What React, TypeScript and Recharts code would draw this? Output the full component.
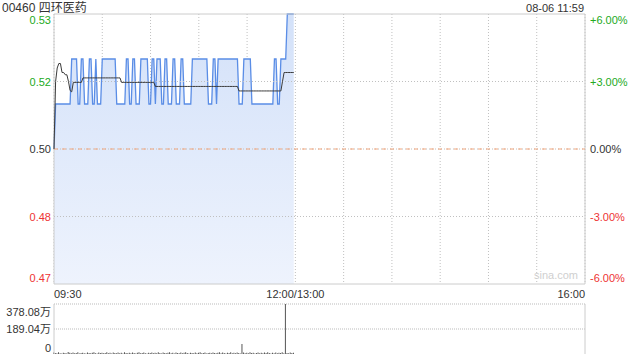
import React from "react";
import {
  ComposedChart,
  Bar,
  Area,
  Line,
  XAxis,
  YAxis,
  CartesianGrid,
  ReferenceLine,
  ReferenceArea,
} from "recharts";

// minute index from 09:30 (0) to 16:00 (330, lunch break removed)
const prices = [
  0.50, 0.51, 0.51, 0.51, 0.51, 0.51, 0.51, 0.51, 0.51, 0.51,
  0.51, 0.52, 0.52, 0.52, 0.52, 0.51, 0.51, 0.52, 0.52, 0.51,
  0.51, 0.51, 0.52, 0.52, 0.51, 0.51, 0.52, 0.51, 0.51, 0.51,
  0.52, 0.52, 0.52, 0.52, 0.52, 0.52, 0.52, 0.52, 0.52, 0.51,
  0.51, 0.51, 0.51, 0.51, 0.51, 0.52, 0.52, 0.51, 0.51, 0.52,
  0.52, 0.51, 0.51, 0.51, 0.52, 0.52, 0.52, 0.52, 0.52, 0.51,
  0.51, 0.52, 0.52, 0.51, 0.52, 0.52, 0.52, 0.51, 0.51, 0.52,
  0.52, 0.51, 0.51, 0.51, 0.52, 0.52, 0.51, 0.51, 0.51, 0.52,
  0.52, 0.51, 0.51, 0.51, 0.51, 0.51, 0.52, 0.52, 0.52, 0.52,
  0.52, 0.52, 0.52, 0.52, 0.52, 0.52, 0.51, 0.51, 0.51, 0.52,
  0.52, 0.51, 0.52, 0.52, 0.52, 0.52, 0.52, 0.52, 0.52, 0.52,
  0.52, 0.52, 0.52, 0.52, 0.52, 0.51, 0.51, 0.51, 0.52, 0.52,
  0.52, 0.52, 0.52, 0.51, 0.51, 0.51, 0.51, 0.51, 0.51, 0.51,
  0.51, 0.51, 0.51, 0.51, 0.51, 0.51, 0.51, 0.52, 0.52, 0.51,
  0.51, 0.52, 0.52, 0.52, 0.52, 0.53, 0.53, 0.53, 0.53, 0.53,
];

const avgPrices = [
  0.500, 0.515, 0.518, 0.519, 0.519, 0.517, 0.517, 0.5165, 0.5165, 0.515,
  0.513, 0.5127, 0.5148, 0.5148, 0.5148, 0.5148, 0.5148, 0.5148, 0.5158, 0.5158,
  0.5158, 0.5158, 0.5158, 0.5158, 0.5158, 0.5158, 0.5158, 0.5158, 0.5158, 0.5158,
  0.5158, 0.5158, 0.5158, 0.5158, 0.5158, 0.5158, 0.5158, 0.5158, 0.5158, 0.5158,
  0.5158, 0.5158, 0.5148, 0.5148, 0.5148, 0.5148, 0.5148, 0.5148, 0.5148, 0.5148,
  0.5148, 0.5148, 0.5148, 0.5148, 0.5148, 0.5148, 0.5148, 0.5148, 0.5148, 0.5148,
  0.5148, 0.5148, 0.5148, 0.5139, 0.5139, 0.5139, 0.5139, 0.5139, 0.5139, 0.5139,
  0.5139, 0.5139, 0.5139, 0.5139, 0.5139, 0.5139, 0.5139, 0.5139, 0.5139, 0.5139,
  0.5139, 0.5139, 0.5139, 0.5139, 0.5139, 0.5139, 0.5139, 0.5139, 0.5139, 0.5139,
  0.5139, 0.5139, 0.5139, 0.5139, 0.5139, 0.5139, 0.5139, 0.5139, 0.5139, 0.5139,
  0.5139, 0.5139, 0.5139, 0.5139, 0.5139, 0.5139, 0.5139, 0.5139, 0.5139, 0.5139,
  0.5139, 0.5139, 0.5139, 0.5139, 0.5139, 0.5129, 0.5129, 0.5129, 0.5129, 0.5129,
  0.5129, 0.5129, 0.5129, 0.5129, 0.5129, 0.5129, 0.5129, 0.5129, 0.5129, 0.5129,
  0.5129, 0.5129, 0.5129, 0.5129, 0.5129, 0.5129, 0.5129, 0.5129, 0.5129, 0.5129,
  0.5129, 0.5129, 0.515, 0.517, 0.517, 0.517, 0.517, 0.517, 0.517, 0.517,
];

// volume in 万 shares
const volumes = [
  12, 8, 5, 14, 6, 3, 10, 7, 4, 15,
  9, 6, 11, 5, 8, 13, 4, 7, 10, 6,
  3, 12, 8, 5, 9, 14, 6, 4, 11, 7,
  10, 5, 8, 13, 6, 9, 4, 12, 7, 5,
  11, 6, 9, 3, 14, 8, 5, 10, 6, 12,
  7, 4, 9, 13, 5, 8, 11, 6, 4, 10,
  7, 12, 5, 9, 6, 14, 8, 3, 11, 7,
  5, 10, 13, 6, 9, 4, 12, 8, 5, 11,
  6, 9, 14, 7, 4, 10, 8, 5, 12, 6,
  9, 13, 5, 7, 11, 4, 8, 10, 6, 12,
  7, 5, 9, 14, 6, 11, 8, 4, 10, 7,
  13, 5, 9, 6, 12, 8, 4, 75, 11, 6,
  9, 5, 13, 7, 10, 4, 8, 12, 6, 9,
  5, 11, 7, 14, 8, 4, 10, 6, 12, 5,
  9, 7, 13, 6, 378.08, 8, 5, 11, 7, 10,
];

const prevClose = 0.5;
const priceTicks = [0.47, 0.485, 0.5, 0.515, 0.53];
const priceLabels = ["0.47", "0.48", "0.50", "0.52", "0.53"];
const priceGrid = [0.515, 0.5, 0.485];
const pctTicks = [-6, -3, 0, 3, 6];
const pctLabels = ["-6.00%", "-3.00%", "0.00%", "+3.00%", "+6.00%"];
const timeTicks = [0, 30, 60, 90, 120, 150, 180, 210, 240, 270, 300, 330];
const timeLabels: Record<number, string> = { 0: "09:30", 150: "12:00/13:00", 330: "16:00" };
const volTicks = [0, 189.04, 378.08];
const volLabels = ["0", "189.04万", "378.08万"];
const volGrid = [378.08, 189.04];
const dayEnds = [0, 330];

const rows = prices.map((p, i) => ({
  t: i,
  price: p,
  pct: ((p - prevClose) / prevClose) * 100,
  avg: avgPrices[i],
  vol: volumes[i],
}));

// two-point series spanning the whole session, used for the horizontal grid
const gridSeries = (v: number) => dayEnds.map((t) => ({ t, g: v }));

const FONT = "'Liberation Sans', Arial, 'Noto Sans CJK SC', sans-serif";
const GREEN = "#22aa22";
const RED = "#ee3333";
const DARK = "#333333";

const tickColor = (v: number) => (v > 0.0001 ? GREEN : v < -0.0001 ? RED : DARK);

const PriceTick = (props: any) => {
  const v = props.payload.value;
  const i = priceTicks.indexOf(v);
  let dy = 0;
  if (i === priceTicks.length - 1) dy = 6;
  if (i === 0) dy = -6;
  return (
    <text x={51} y={props.y + dy} textAnchor="end" dominantBaseline="central" fontSize={11} fill={tickColor(v - prevClose)} fontFamily={FONT}>
      {priceLabels[i]}
    </text>
  );
};

const PctTick = (props: any) => {
  const v = props.payload.value;
  const i = pctTicks.indexOf(v);
  let dy = 0;
  if (i === pctTicks.length - 1) dy = 6;
  if (i === 0) dy = -6;
  return (
    <text x={590} y={props.y + dy} textAnchor="start" dominantBaseline="central" fontSize={11} fill={tickColor(v)} fontFamily={FONT}>
      {pctLabels[i]}
    </text>
  );
};

const TimeTick = (props: any) => {
  const v = props.payload.value;
  const label = timeLabels[v];
  if (!label) return null;
  const anchor = v === 0 ? "start" : v === 330 ? "end" : "middle";
  return (
    <text x={props.x} y={298} textAnchor={anchor} fontSize={11} fill={DARK} fontFamily={FONT}>
      {label}
    </text>
  );
};

const VolTick = (props: any) => {
  const v = props.payload.value;
  const i = volTicks.indexOf(v);
  let dy = 0;
  if (i === volTicks.length - 1) dy = 8;
  if (i === 0) dy = -6;
  return (
    <text x={51} y={props.y + dy} textAnchor="end" dominantBaseline="central" fontSize={11} fill={DARK} fontFamily={FONT}>
      {volLabels[i]}
    </text>
  );
};

export default function App() {
  return (
    <div style={{ position: "absolute", left: 0, top: 0, width: 640, height: 360, background: "#fff", fontFamily: FONT, overflow: "hidden" }}>
      <div style={{ position: "absolute", left: 2, top: 0, fontSize: 12, color: DARK, lineHeight: "16px" }}>
        00460 四环医药
      </div>
      <div style={{ position: "absolute", right: 56, top: 1, fontSize: 11, color: DARK, lineHeight: "14px" }}>
        08-06 11:59
      </div>

      <div style={{ position: "absolute", left: 0, top: 0 }}>
        <ComposedChart width={640} height={305} data={rows} margin={{ top: 14, right: 0, bottom: 5, left: 0 }}>
          <defs>
            <linearGradient id="priceFill" x1="0" y1="0" x2="0" y2="1">
              <stop offset="0%" stopColor="#d3e1f9" />
              <stop offset="100%" stopColor="#eef3fd" />
            </linearGradient>
          </defs>
          <XAxis
            dataKey="t"
            type="number"
            domain={[0, 330]}
            ticks={timeTicks}
            tick={<TimeTick />}
            axisLine={false}
            tickLine={false}
            height={16}
            interval={0}
          />
          <YAxis
            yAxisId="price"
            domain={[0.47, 0.53]}
            ticks={priceTicks}
            tick={<PriceTick />}
            axisLine={false}
            tickLine={false}
            width={54}
            interval={0}
          />
          <YAxis
            yAxisId="pct"
            orientation="right"
            type="number"
            domain={[-6, 6]}
            allowDataOverflow
            ticks={pctTicks}
            tick={<PctTick />}
            axisLine={false}
            tickLine={false}
            width={55}
            interval={0}
          />
          <CartesianGrid horizontal={false} stroke="#c0c0c0" strokeDasharray="1 2" />
          <Area
            yAxisId="price"
            type="linear"
            dataKey="price"
            stroke="#5a8de6"
            strokeWidth={1.3}
            fill="url(#priceFill)"
            fillOpacity={1}
            isAnimationActive={false}
            dot={false}
            activeDot={false}
          />
          <Line
            yAxisId="pct"
            type="linear"
            dataKey="pct"
            stroke="none"
            dot={false}
            activeDot={false}
            isAnimationActive={false}
          />
          {priceGrid.map((v) => (
            <Line
              key={`grid-${v}`}
              yAxisId="price"
              data={gridSeries(v)}
              dataKey="g"
              type="linear"
              stroke="#c0c0c0"
              strokeDasharray="1 2"
              strokeWidth={1}
              dot={false}
              activeDot={false}
              isAnimationActive={false}
            />
          ))}
          <ReferenceLine yAxisId="price" y={0.5} stroke="#f2a67c" strokeDasharray="4 4" />
          <Line
            yAxisId="price"
            type="linear"
            dataKey="avg"
            stroke="#3a3a3a"
            strokeWidth={1}
            dot={false}
            activeDot={false}
            isAnimationActive={false}
          />
          <ReferenceArea
            yAxisId="price"
            x1={0}
            x2={330}
            y1={0.47}
            y2={0.53}
            fill="none"
            stroke="#cccccc"
            strokeWidth={1}
            ifOverflow="visible"
          />
        </ComposedChart>
      </div>

      <div style={{ position: "absolute", left: 534, top: 269, fontSize: 11, color: "#cfcfcf" }}>sina.com</div>

      <div style={{ position: "absolute", left: 0, top: 300 }}>
        <ComposedChart width={640} height={60} data={rows} margin={{ top: 4, right: 55, bottom: 6, left: 0 }}>
          <XAxis dataKey="t" type="number" domain={[0, 330]} hide />
          <YAxis
            domain={[0, 378.08]}
            ticks={volTicks}
            tick={<VolTick />}
            axisLine={false}
            tickLine={false}
            width={54}
            interval={0}
          />
          {volGrid.map((v) => (
            <Line
              key={`vgrid-${v}`}
              data={gridSeries(v)}
              dataKey="g"
              type="linear"
              stroke="#bbbbbb"
              strokeDasharray="1 1"
              strokeWidth={1}
              dot={false}
              activeDot={false}
              isAnimationActive={false}
            />
          ))}
          <ReferenceLine x={0} stroke="#cccccc" />
          <ReferenceLine x={330} stroke="#cccccc" />
          <Bar dataKey="vol" fill="#555555" barSize={1} isAnimationActive={false} />
        </ComposedChart>
      </div>
    </div>
  );
}
